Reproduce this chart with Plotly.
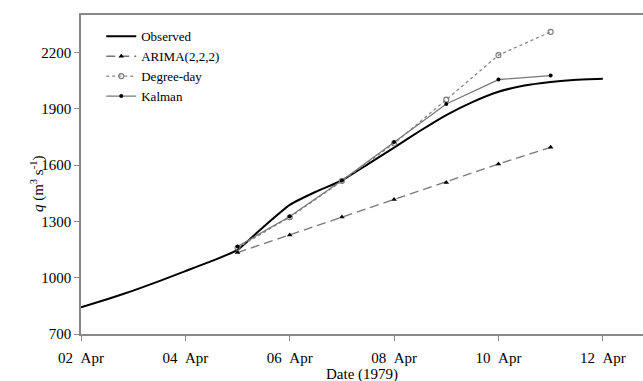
import plotly.graph_objects as go
from datetime import datetime, timedelta

base = datetime(1979, 4, 2)

# Observed (half-day steps from 02 Apr)
obs_days = [0, 0.5, 1, 1.5, 2, 2.5, 3, 3.5, 4, 4.5, 5, 5.5, 6, 6.5, 7, 7.5, 8, 8.5, 9, 9.5, 10]
obs_vals = [842, 885, 931, 982, 1035, 1088, 1148, 1272, 1388, 1458, 1518, 1605, 1693, 1783, 1867, 1936, 1991, 2024, 2043, 2055, 2060]

fc_days = [3, 4, 5, 6, 7, 8, 9]  # 05 Apr .. 11 Apr
arima_vals = [1134, 1228, 1323, 1417, 1508, 1606, 1695]
degday_vals = [1160, 1322, 1515, 1715, 1949, 2186, 2310]
kalman_vals = [1166, 1326, 1518, 1723, 1926, 2056, 2077]

tick_days = [0, 2, 4, 6, 8, 10]
tick_labels = ["02\u00a0\u00a0Apr", "04\u00a0\u00a0Apr", "06\u00a0\u00a0Apr", "08\u00a0\u00a0Apr", "10\u00a0\u00a0Apr", "12\u00a0\u00a0Apr"]

def to_dates(days):
    return [base + timedelta(days=d) for d in days]

FONT = "Liberation Serif, Times New Roman, serif"

fig = go.Figure()
fig.add_trace(go.Scatter(x=to_dates(obs_days), y=obs_vals, name="Observed", mode="lines",
                         line=dict(color="black", width=2, shape="spline", smoothing=0.4)))
fig.add_trace(go.Scatter(x=to_dates(fc_days), y=arima_vals, name="ARIMA(2,2,2)", mode="lines+markers",
                         line=dict(color="#777777", width=1.3, dash="9px,5px"),
                         marker=dict(symbol="triangle-up", size=5, color="black")))
fig.add_trace(go.Scatter(x=to_dates(fc_days), y=degday_vals, name="Degree-day", mode="lines+markers",
                         line=dict(color="#888888", width=1.3, dash="dot"),
                         marker=dict(symbol="circle-open", size=5, color="#777777", line=dict(width=1.1))))
fig.add_trace(go.Scatter(x=to_dates(fc_days), y=kalman_vals, name="Kalman", mode="lines+markers",
                         line=dict(color="#777777", width=1.3),
                         marker=dict(symbol="circle", size=4, color="black")))

fig.update_layout(
    width=643, height=381,
    margin=dict(l=81, r=0, t=15, b=47),
    paper_bgcolor="white", plot_bgcolor="white",
    font=dict(family=FONT, size=15, color="black"),
    showlegend=True,
    legend=dict(x=0.036, y=0.98, xanchor="left", yanchor="top", bgcolor="rgba(0,0,0,0)",
                font=dict(family=FONT, size=13), tracegroupgap=0, itemwidth=30),
    annotations=[
        dict(text="Date (1979)", xref="paper", yref="paper", x=0.5, y=0, yshift=-40,
             xanchor="center", yanchor="middle", showarrow=False, font=dict(family=FONT, size=15)),
        dict(text="<i>q</i> (m<sup>3</sup> s<sup>-1</sup>)", xref="paper", yref="paper", x=0, xshift=-44,
             y=0.47, xanchor="center", yanchor="middle", textangle=-90, showarrow=False,
             font=dict(family=FONT, size=15)),
    ],
)
fig.update_xaxes(
    type="date", automargin=False,
    range=[base, base + timedelta(days=10.77)],
    tickvals=to_dates(tick_days), ticktext=tick_labels,
    showgrid=False, zeroline=False,
    showline=True, linecolor="#888888", linewidth=1.5, mirror=True,
    ticks="outside", ticklen=5, tickcolor="#888888", ticklabelstandoff=4,
)
fig.update_yaxes(
    automargin=False,
    range=[700, 2400], tick0=700, dtick=300,
    showgrid=False, zeroline=False,
    showline=True, linecolor="#888888", linewidth=1.5,
    ticks="outside", ticklen=5, tickcolor="#888888",
)

fig.write_html("out.html", config={"displayModeBar": False},
               post_script="document.body.style.margin='0';document.body.style.overflow='hidden';")
